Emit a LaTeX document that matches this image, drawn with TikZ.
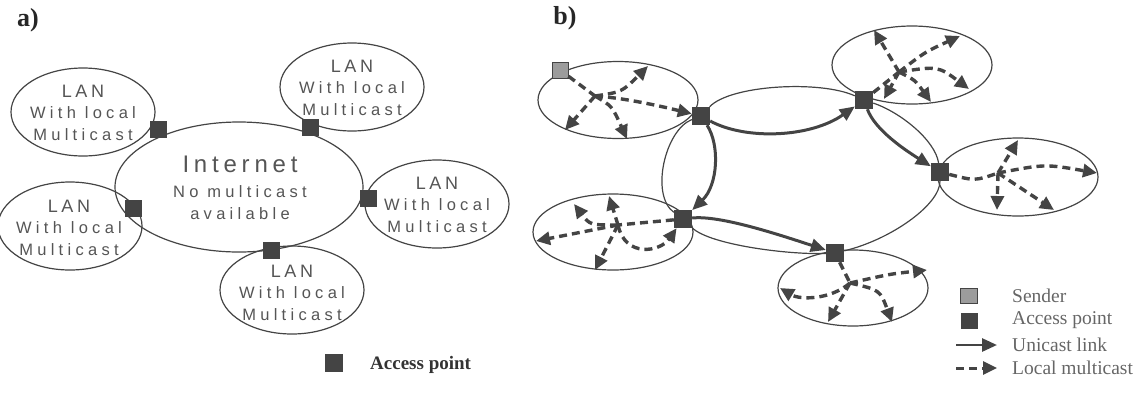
\documentclass[tikz,border=0pt]{standalone}
\usepackage{fontspec}
\setmainfont{Liberation Serif}
\newfontfamily\lanfont[LetterSpace=20]{Liberation Sans}
\newfontfamily\lanfontw[LetterSpace=26]{Liberation Sans}
\usetikzlibrary{shapes.geometric,arrows.meta}
\definecolor{ink}{HTML}{444444}
\definecolor{txt}{HTML}{555555}
\definecolor{legtxt}{HTML}{666666}
\definecolor{sendc}{HTML}{9C9C9C}
\begin{document}
\begin{tikzpicture}[x=1pt,y=-1pt,
  lan/.style={draw=ink, line width=1.2pt, ellipse, minimum width=144pt, minimum height=88pt, inner sep=0pt},
  lanb/.style={draw=ink, line width=1.2pt, ellipse, minimum width=160pt, minimum height=77pt, inner sep=0pt},
  ap/.style={fill=ink, minimum size=17pt, inner sep=0pt},
  sender/.style={fill=sendc, draw=ink, line width=0.8pt, minimum width=16pt, minimum height=16pt, inner sep=0pt},
  tbig/.style={text=txt, font=\lanfont\fontsize{24}{26}\selectfont, inner sep=0pt},
  tlan/.style={text=txt, font=\lanfont\fontsize{18}{20}\selectfont, inner sep=0pt},
  tsub/.style={text=txt, font=\lanfontw\fontsize{16.5}{18}\selectfont, inner sep=0pt},
  panel/.style={font=\bfseries\fontsize{26}{28}\selectfont, text=black!85, inner sep=0pt},
  legb/.style={text=legtxt, font=\fontsize{19.5}{21}\selectfont, anchor=west, inner sep=0pt},
  thin/.style={draw=ink, line width=1.2pt},
  uni/.style={draw=ink, line width=3pt, -{Triangle[length=15pt,width=13pt]}},
  mc/.style={draw=ink, line width=3.4pt, dash pattern=on 8pt off 5pt, -{Triangle[length=14pt,width=13pt]}},
  mcl/.style={draw=ink, line width=3.4pt, dash pattern=on 8pt off 5pt}
]
\useasboundingbox (0,0) rectangle (1148,402);

% ---------------- panel a ----------------
\node[panel] (la) at (28,20) {a)};
\node[lan, minimum width=248pt, minimum height=130pt] (inet) at (239,187) {};
\node[tbig] (inet1) at (240,164) {Internet};
\node[tsub] (inet2) at (240,192) {No multicast};
\node[tsub] (inet3) at (240,214) {available};

\node[lan] (l1) at (83,112) {};
\node[lan] (l2) at (352,87) {};
\node[lan] (l3) at (437,204) {};
\node[lan] (l4) at (70,226) {};
\node[lan] (l5) at (292,290) {};

\foreach \n/\x/\y in {l1/83/112, l2/352/87, l3/437/204, l4/69/227, l5/292/292}{
  \node[tlan] (\n a) at (\x,\y-21) {LAN};
  \node[tsub] (\n b) at (\x,\y+1) {With local};
  \node[tsub] (\n c) at (\x,\y+23) {Multicast};
}

\node[ap] (a1) at (158,129) {};
\node[ap] (a2) at (310,127) {};
\node[ap] (a3) at (368,198) {};
\node[ap] (a4) at (133,208) {};
\node[ap] (a5) at (271,250) {};

\node[ap, minimum size=18pt] (lega) at (334,363) {};
\node[anchor=west, inner sep=0pt, text=black!80, font=\bfseries\fontsize{19}{21}\selectfont] (legat) at (370,365) {Access point};

% ---------------- panel b ----------------
\node[panel] (lb) at (565,18) {b)};

\node[lanb] (e1) at (618,100) {};
\node[lanb, minimum height=78pt] (e2) at (912,65) {};
\node[lanb, minimum height=78pt] (e3) at (1018,177) {};
\node[lanb, minimum height=76pt] (e4) at (613,232) {};
\node[lanb, minimum width=150pt, minimum height=76pt] (e5) at (853,288) {};

\node[ap, minimum size=18pt] (b1) at (701,116) {};
\node[ap, minimum size=18pt] (b2) at (864,100) {};
\node[ap, minimum size=18pt] (b3) at (940,172) {};
\node[ap, minimum size=18pt] (b4) at (683,219) {};
\node[ap, minimum size=18pt] (b5) at (835,253) {};
\node[sender] (snd) at (560,70) {};

% Internet outline arcs
\draw[thin] (b1) .. controls (730,85) and (820,80) .. (b2);
\draw[thin] (b1) .. controls (665,130) and (650,195) .. (b4);
\draw[thin] (b2) .. controls (900,112) and (935,140) .. (b3);
\draw[thin] (b3) .. controls (940,205) and (890,240) .. (b5);
\draw[thin] (b4) .. controls (710,245) and (790,255) .. (b5);

% unicast links
\draw[uni] (b1) .. controls (745,140) and (810,138) .. (b2);
\draw[uni] (b1) .. controls (720,145) and (718,185) .. (b4);
\draw[uni] (b2) .. controls (875,130) and (905,150) .. (b3);
\draw[uni] (b4) .. controls (720,215) and (780,235) .. (b5);

% local multicast 1
\coordinate (h1) at (595,96);
\coordinate (t11) at (648,66);
\coordinate (t13) at (565,130);
\coordinate (t14) at (627,139);
\draw[mcl] (snd) -- (h1);
\draw[mc] (h1) .. controls (622,92) .. (t11);
\draw[mc] (h1) .. controls (625,98) and (660,106) .. (b1);
\draw[mc] (h1) -- (t13);
\draw[mc] (h1) .. controls (612,106) .. (t14);

% local multicast 2
\coordinate (h2) at (899,72);
\coordinate (t21) at (874,30);
\coordinate (t22) at (960,36);
\coordinate (t23) at (969,89);
\coordinate (t24) at (931,102);
\coordinate (t25) at (884,99);
\draw[mcl] (b2) -- (h2);
\draw[mc] (h2) -- (t21);
\draw[mc] (h2) .. controls (925,52) .. (t22);
\draw[mc] (h2) .. controls (938,66) .. (t23);
\draw[mc] (h2) .. controls (915,80) .. (t24);
\draw[mc] (h2) -- (t25);

% local multicast 3
\coordinate (h3) at (998,173);
\coordinate (t31) at (1018,140);
\coordinate (t32) at (1097,173);
\coordinate (t33) at (997,210);
\coordinate (t34) at (1054,210);
\draw[mcl] (b3) .. controls (975,181) .. (h3);
\draw[mc] (h3) -- (t31);
\draw[mc] (h3) .. controls (1045,164) .. (t32);
\draw[mc] (h3) -- (t33);
\draw[mc] (h3) -- (t34);

% local multicast 4
\coordinate (h4) at (618,225);
\coordinate (t41) at (574,204);
\coordinate (t42) at (609,196);
\coordinate (t43) at (536,241);
\coordinate (t44) at (595,270);
\draw[mcl] (b4) -- (h4);
\draw[mc] (h4) .. controls (590,225) .. (t41);
\draw[mc] (h4) -- (t42);
\draw[mc] (h4) -- (t43);
\draw[mc] (h4) -- (t44);
\draw[mc] (h4) .. controls (625,258) and (660,252) .. (b4);

% local multicast 5
\coordinate (h5) at (850,283);
\coordinate (t51) at (780,288);
\coordinate (t52) at (927,270);
\coordinate (t53) at (828,322);
\coordinate (t54) at (892,322);
\draw[mcl] (b5) -- (h5);
\draw[mc] (h5) .. controls (830,300) and (800,300) .. (t51);
\draw[mc] (h5) .. controls (890,274) .. (t52);
\draw[mc] (h5) -- (t53);
\draw[mc] (h5) .. controls (880,290) .. (t54);

% legend b
\node[sender, minimum width=17pt, minimum height=15pt] (lgs) at (969,296) {};
\node[ap, minimum width=17pt, minimum height=16pt] (lga) at (969,321) {};
\coordinate (lu1) at (956,345);
\coordinate (lu2) at (997,345);
\coordinate (lm1) at (956,368);
\coordinate (lm2) at (997,368);
\draw[uni, line width=2.8pt] (lu1) -- (lu2);
\draw[mc, line width=3pt] (lm1) -- (lm2);
\node[legb] (lgst) at (1012,296) {Sender};
\node[legb] (lgat) at (1012,320) {Access point};
\node[legb] (lgut) at (1012,345) {Unicast link};
\node[legb] (lgmt) at (1012,368) {Local multicast};
\end{tikzpicture}
\end{document}
